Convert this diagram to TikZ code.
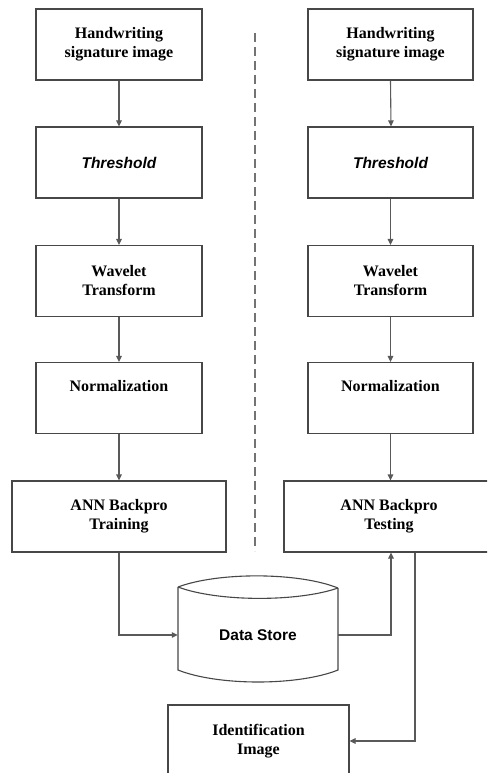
\documentclass[tikz,border=0pt]{standalone}
\usepackage{fontspec}
\setmainfont{Liberation Serif}
\newfontfamily\arialf{Liberation Sans}
\usetikzlibrary{arrows.meta}
\begin{document}
\begin{tikzpicture}[x=1pt,y=-1pt,
  box/.style={draw=black!72,line width=1.1pt,rectangle,align=center,inner sep=0pt,
    font=\fontsize{16}{19}\selectfont\bfseries},
  lbox/.style={box,minimum width=166pt,minimum height=71pt},
  rbox/.style={box,minimum width=165pt,minimum height=71pt},
  sanstxt/.style={font=\fontsize{15.5}{19}\selectfont\arialf\bfseries},
  conn/.style={draw=black!65,line width=1.1pt,-{Triangle[length=6pt,width=5.5pt]}},
  plain/.style={draw=black!65,line width=1.1pt}]
\clip (0,0) rectangle (487,773);
\fill[white] (0,0) rectangle (487,773);
% separator
\draw[black!55,line width=1.1pt,dash pattern=on 9pt off 5pt] (255,33) -- (255,551);
% left column
\node[lbox] (l1) at (119,44.5) {Handwriting\\signature image};
\node[lbox,font=\fontsize{15.5}{19}\selectfont\arialf\bfseries\itshape] (l2) at (119,162.5) {Threshold};
\node[lbox] (l3) at (119,281) {Wavelet\\Transform};
\node[lbox,text height=12pt,text depth=26pt] (l4) at (119,398) {Normalization};
\node[box,minimum width=214pt,minimum height=71pt] (l5) at (119,516.5) {ANN Backpro\\Training};
% right column
\node[rbox] (r1) at (390.5,44.5) {Handwriting\\signature image};
\node[rbox,font=\fontsize{15.5}{19}\selectfont\arialf\bfseries\itshape] (r2) at (390.5,162.5) {Threshold};
\node[rbox] (r3) at (390.5,281) {Wavelet\\Transform};
\node[rbox,text height=12pt,text depth=26pt] (r4) at (390.5,398) {Normalization};
\node[box,minimum width=210pt,minimum height=71pt] (r5) at (389,516.5) {ANN Backpro\\Testing};
% data store
\draw[draw=black!72,line width=1.1pt]
  (178,587) .. controls (218,572) and (298,572) .. (338,588)
  (178,587) .. controls (218,602) and (298,602) .. (338,588)
  (178,587) -- (178,670) .. controls (218,686) and (298,686) .. (338,670) -- (338,588);
\node[sanstxt,minimum width=160pt,inner sep=0pt] (ds) at (258,635) {Data Store};
% identification
\node[box,minimum width=181pt,minimum height=72pt] (id) at (258.5,741) {Identification\\Image};
% connectors
\draw[conn] (l1.south) -- (l2.north);
\draw[conn] (l2.south) -- (l3.north);
\draw[conn] (l3.south) -- (l4.north);
\draw[conn] (l4.south) -- (l5.north);
\draw[conn] (r1.south) -- ([xshift=0.5pt]r2.north);
\draw[conn] (r2.south) -- (r3.north);
\draw[conn] (r3.south) -- (r4.north);
\draw[conn] (r4.south) -- ([xshift=1.5pt]r5.north);
\draw[conn] (l5.south) |- (ds.west);
\draw[conn] (ds.east) -| ([xshift=2pt]r5.south);
\draw[conn] ([xshift=26pt]r5.south) |- (id.east);
\end{tikzpicture}
\end{document}
